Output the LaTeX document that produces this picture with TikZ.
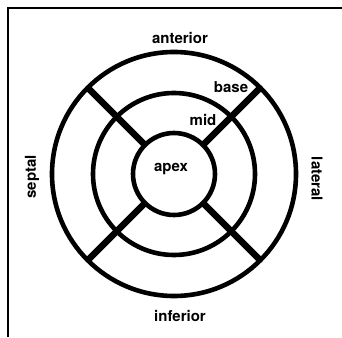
\documentclass[tikz,border=0pt]{standalone}
\usepackage{fontspec}
\setmainfont{TeX Gyre Heros}
\usepackage{tikz}
\usetikzlibrary{calc}

\begin{document}
\begin{tikzpicture}[x=1pt,y=1pt, every node/.style={font=\fontsize{15}{18}\selectfont\bfseries,inner sep=0pt},
  ring/.style={line width=4.6pt},
  spoke/.style={line width=6.5pt},
  frame/.style={line width=1.8pt}]
  \useasboundingbox (0,0) rectangle (342,337);
  \coordinate (c) at (174,163);
  \coordinate (ftop) at (342,329); \coordinate (fcorner) at (8,329); \coordinate (fbot) at (8,0);
  \draw[frame] (ftop)--(fcorner)--(fbot);
  % rings
  \draw[ring] (c) circle (122); \draw[ring] (c) circle (81); \draw[ring] (c) circle (41);
  % spokes between apex and outer ring
  \draw[spoke] ($(c)+(45:41)$)--($(c)+(45:122)$); \draw[spoke] ($(c)+(135:41)$)--($(c)+(135:122)$);
  \draw[spoke] ($(c)+(225:41)$)--($(c)+(225:122)$); \draw[spoke] ($(c)+(315:41)$)--($(c)+(315:122)$);
  \node (anterior) at (180,299) {anterior};
  \node (inferior) at (180,21) {inferior};
  \node (base) at (231,250) {base};
  \node (mid) at (203,217) {mid};
  \node (apex) at (171,168) {apex};
  \node[rotate=90] (septal) at (32,160) {septal};
  \node[rotate=-90] (lateral) at (317,158) {lateral};
\end{tikzpicture}
\end{document}
